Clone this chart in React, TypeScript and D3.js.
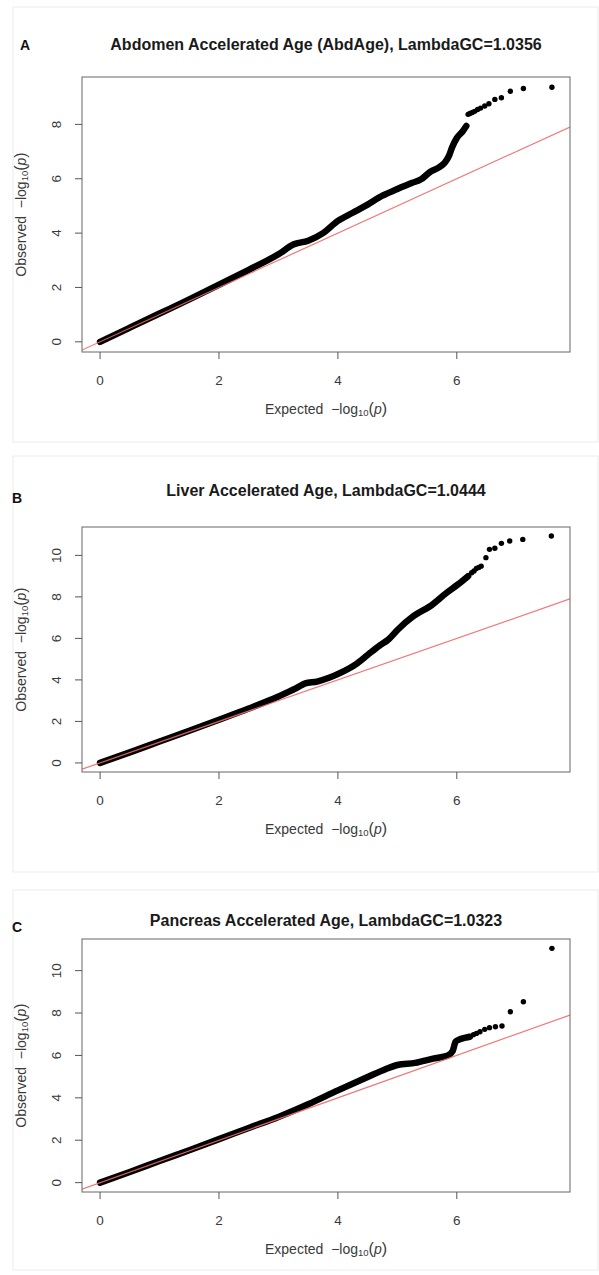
import React from "react";
import * as d3 from "d3";

type Pt = [number, number];

// Largest expected -log10(p) on every panel
const expectedMax = 7.6;
const xTickValues = [0, 2, 4, 6];

const panelLetters = ["A", "B", "C"];
const panelTitles = [
  "Abdomen Accelerated Age (AbdAge), LambdaGC=1.0356",
  "Liver Accelerated Age, LambdaGC=1.0444",
  "Pancreas Accelerated Age, LambdaGC=1.0323",
];
const yTicksAbd = [0, 2, 4, 6, 8];
const yTicksLiver = [0, 2, 4, 6, 8, 10];
const yTicksPanc = [0, 2, 4, 6, 8, 10];

// Dense part of each QQ curve (expected, observed)
const abdBody: Pt[] = [
  [0, 0], [0.5, 0.52], [1, 1.04], [1.5, 1.56], [2, 2.1], [2.5, 2.65], [3, 3.22],
  [3.25, 3.58], [3.5, 3.72], [3.75, 4.0], [4, 4.45], [4.25, 4.75], [4.5, 5.05],
  [4.75, 5.38], [5.0, 5.62], [5.25, 5.85], [5.4, 5.98], [5.55, 6.25], [5.7, 6.42],
  [5.8, 6.6], [5.87, 6.85], [5.92, 7.15], [6.0, 7.5], [6.1, 7.75], [6.16, 7.94],
];
// Sparse top hits drawn as single dots
const abdTail: Pt[] = [
  [6.19, 8.37], [6.22, 8.4], [6.26, 8.44], [6.3, 8.48], [6.35, 8.55], [6.4, 8.6],
  [6.47, 8.68], [6.54, 8.76], [6.64, 8.92], [6.75, 8.98], [6.9, 9.22], [7.12, 9.32],
  [7.6, 9.37],
];

const liverBody: Pt[] = [
  [0, 0], [0.5, 0.51], [1, 1.03], [1.5, 1.55], [2, 2.08], [2.5, 2.62], [3, 3.2],
  [3.3, 3.6], [3.45, 3.83], [3.65, 3.92], [3.85, 4.1], [4.05, 4.35], [4.3, 4.75],
  [4.5, 5.2], [4.7, 5.65], [4.85, 5.95], [5.01, 6.43], [5.27, 7.07], [5.55, 7.55],
  [5.83, 8.2], [6.02, 8.6], [6.19, 9.0],
];
const liverTail: Pt[] = [
  [6.25, 9.16], [6.29, 9.25], [6.33, 9.37], [6.37, 9.42], [6.41, 9.48], [6.49, 9.89],
  [6.55, 10.29], [6.64, 10.34], [6.75, 10.58], [6.89, 10.69], [7.11, 10.77], [7.59, 10.93],
];

const pancBody: Pt[] = [
  [0, 0], [0.5, 0.5], [1, 1.02], [1.5, 1.53], [2, 2.05], [2.5, 2.58], [3, 3.1],
  [3.5, 3.7], [4, 4.35], [4.5, 4.98], [4.8, 5.35], [5.0, 5.55], [5.3, 5.65],
  [5.6, 5.85], [5.85, 6.0], [5.93, 6.2], [5.98, 6.65], [6.05, 6.76], [6.15, 6.84],
  [6.22, 6.88],
];
const pancTail: Pt[] = [
  [6.28, 6.98], [6.33, 7.04], [6.39, 7.12], [6.47, 7.23], [6.55, 7.31], [6.65, 7.35],
  [6.76, 7.39], [6.9, 8.06], [7.12, 8.53], [7.6, 11.05],
];

const panelBodies = [abdBody, liverBody, pancBody];
const panelTails = [abdTail, liverTail, pancTail];
const panelYTicks = [yTicksAbd, yTicksLiver, yTicksPanc];

// Page layout for the three stacked panels
const layouts = [
  { frameTop: 7, frameBottom: 442, top: 77, bottom: 352, titleY: 46, letterX: 25, letterY: 46 },
  { frameTop: 456, frameBottom: 872, top: 527, bottom: 772, titleY: 492, letterX: 17, letterY: 499 },
  { frameTop: 890, frameBottom: 1270, top: 939, bottom: 1192, titleY: 922, letterX: 17, letterY: 928 },
];
const plotLeft = 82;
const plotRight = 570;

const FONT = "'Liberation Sans', Arial, Helvetica, sans-serif";
const AXIS_COL = "#3a3a3a";

function LogLabel({ x, y, rotate, prefix }: { x: number; y: number; rotate: boolean; prefix: string }) {
  return (
    <text
      transform={`translate(${x},${y})${rotate ? " rotate(-90)" : ""}`}
      textAnchor="middle"
      dominantBaseline="middle"
      fontFamily={FONT}
      fontSize={14}
      fill={AXIS_COL}
      style={{ whiteSpace: "pre" }}
    >
      {prefix + "  \u2212log"}
      <tspan fontSize={9.5} dy={3}>10</tspan>
      <tspan fontSize={16} dy={-3}>(</tspan>
      <tspan fontStyle="italic">p</tspan>
      <tspan fontSize={16}>)</tspan>
    </text>
  );
}

function Panel({ idx }: { idx: number }) {
  const L = layouts[idx];
  const body = panelBodies[idx];
  const tail = panelTails[idx];
  const yTicks = panelYTicks[idx];
  const yMax = d3.max([...body, ...tail], (d) => d[1]) as number;

  const x = d3.scaleLinear().domain([-0.04 * expectedMax, 1.04 * expectedMax]).range([plotLeft, plotRight]);
  const y = d3.scaleLinear().domain([-0.04 * yMax, 1.04 * yMax]).range([L.bottom, L.top]);

  const line = d3.line<Pt>().x((d) => x(d[0])).y((d) => y(d[1])).curve(d3.curveMonotoneX);
  const clipId = `clip-${idx}`;
  const xd = x.domain();
  const midX = (plotLeft + plotRight) / 2;
  const midY = (L.top + L.bottom) / 2;

  return (
    <g>
      <rect x={13} y={L.frameTop} width={585} height={L.frameBottom - L.frameTop} fill="none" stroke="#ececec" strokeWidth={1} />
      <text x={L.letterX} y={L.letterY} fontFamily={FONT} fontWeight="bold" fontSize={14} fill="#111" textAnchor="middle" dominantBaseline="middle">
        {panelLetters[idx]}
      </text>
      <text x={midX} y={L.titleY} fontFamily={FONT} fontWeight="bold" fontSize={16} fill="#1a1a1a" textAnchor="middle" dominantBaseline="middle">
        {panelTitles[idx]}
      </text>
      <defs>
        <clipPath id={clipId}>
          <rect x={plotLeft} y={L.top} width={plotRight - plotLeft} height={L.bottom - L.top} />
        </clipPath>
      </defs>
      <g clipPath={`url(#${clipId})`}>
        <path d={line(body) || ""} fill="none" stroke="#000" strokeWidth={6.5} strokeLinecap="round" strokeLinejoin="round" />
        {tail.map((d, i) => (
          <circle key={i} cx={x(d[0])} cy={y(d[1])} r={2.7} fill="#000" />
        ))}
        <line x1={x(xd[0])} y1={y(xd[0])} x2={x(xd[1])} y2={y(xd[1])} stroke="#f06a6a" strokeWidth={1.2} opacity={0.9} />
      </g>
      <rect x={plotLeft} y={L.top} width={plotRight - plotLeft} height={L.bottom - L.top} fill="none" stroke="#666" strokeWidth={1} />
      {/* x axis */}
      {xTickValues.map((t) => (
        <g key={`x${t}`}>
          <line x1={x(t)} x2={x(t)} y1={L.bottom} y2={L.bottom + 7} stroke="#555" />
          <text x={x(t)} y={L.bottom + 29} fontFamily={FONT} fontSize={13.5} fill={AXIS_COL} textAnchor="middle" dominantBaseline="middle">
            {t}
          </text>
        </g>
      ))}
      {/* y axis */}
      {yTicks.map((t) => (
        <g key={`y${t}`}>
          <line x1={plotLeft - 7} x2={plotLeft} y1={y(t)} y2={y(t)} stroke="#555" />
          <text
            transform={`translate(${plotLeft - 25},${y(t)}) rotate(-90)`}
            fontFamily={FONT}
            fontSize={13.5}
            fill={AXIS_COL}
            textAnchor="middle"
            dominantBaseline="middle"
          >
            {t}
          </text>
        </g>
      ))}
      <LogLabel x={midX} y={L.bottom + 58} rotate={false} prefix="Expected" />
      <LogLabel x={plotLeft - 60} y={midY} rotate={true} prefix="Observed" />
    </g>
  );
}

export default function App() {
  return (
    <svg width={599} height={1275} style={{ display: "block", position: "absolute", left: 0, top: 0, background: "#fff" }}>
      <rect width={599} height={1275} fill="#fff" />
      {[0, 1, 2].map((i) => (
        <Panel key={i} idx={i} />
      ))}
    </svg>
  );
}
